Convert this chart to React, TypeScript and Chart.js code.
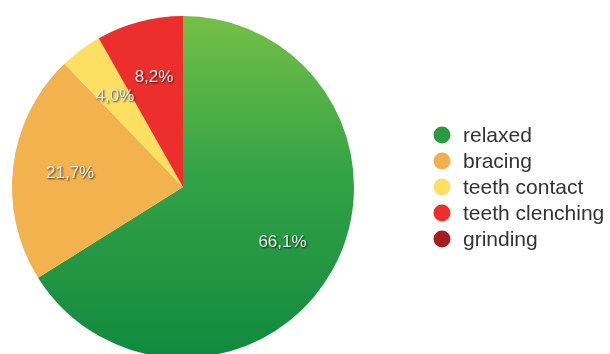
import React, { useEffect, useRef } from "react";
import { Chart, registerables } from "chart.js";

Chart.register(...registerables);

const categories = ["relaxed", "bracing", "teeth contact", "teeth clenching", "grinding"];
const shares = [66.1, 21.7, 4.0, 8.2, 0];
const valueLabels = ["66,1%", "21,7%", "4,0%", "8,2%", ""];
const flatColors = ["#2fa046", "#f2b24e", "#fddf62", "#ec2f2c", "#a51e1f"];
const legendColors = ["#2a9b3f", "#f1b04c", "#fddf62", "#ec2f2c", "#a51e1f"];

const sliceLabelPlugin = {
  id: "sliceLabels",
  afterDatasetsDraw(chart: any) {
    const ctx = chart.ctx;
    const meta = chart.getDatasetMeta(0);
    ctx.save();
    ctx.font = "17px 'Liberation Sans', Arial, sans-serif";
    ctx.textAlign = "center";
    ctx.textBaseline = "middle";
    meta.data.forEach((arc: any, i: number) => {
      const txt = valueLabels[i];
      if (!txt) return;
      const p = arc.getProps(["x", "y", "startAngle", "endAngle", "outerRadius"], true);
      const mid = (p.startAngle + p.endAngle) / 2;
      const r = p.outerRadius * 0.665;
      const x = p.x + Math.cos(mid) * r;
      const y = p.y + Math.sin(mid) * r;
      ctx.shadowColor = "rgba(0,0,0,0.75)";
      ctx.shadowBlur = 2;
      ctx.shadowOffsetX = 1;
      ctx.shadowOffsetY = 1;
      ctx.fillStyle = "#ececec";
      ctx.fillText(txt, x, y);
    });
    ctx.restore();
  },
};

const legendPlugin = {
  id: "customLegend",
  afterDraw(chart: any) {
    const ctx = chart.ctx;
    ctx.save();
    ctx.font = "21px 'Liberation Sans', Arial, sans-serif";
    ctx.textBaseline = "middle";
    ctx.textAlign = "left";
    const x0 = 442;
    const y0 = 135;
    const step = 26;
    chart.data.labels.forEach((lab: string, i: number) => {
      const y = y0 + i * step;
      ctx.beginPath();
      ctx.arc(x0, y, 8.5, 0, Math.PI * 2);
      ctx.fillStyle = legendColors[i];
      ctx.fill();
      ctx.fillStyle = "#333333";
      ctx.fillText(lab, 463, y + 1);
    });
    ctx.restore();
  },
};

export default function App() {
  const ref = useRef<HTMLCanvasElement | null>(null);
  useEffect(() => {
    if (!ref.current) return;
    const chart = new Chart(ref.current, {
      type: "pie",
      data: {
        labels: categories,
        datasets: [
          {
            data: shares,
            borderWidth: 0,
            backgroundColor: (c: any) => {
              const i = c.dataIndex;
              if (i === 0) {
                const area = c.chart.chartArea;
                if (!area) return flatColors[0];
                const g = c.chart.ctx.createLinearGradient(0, area.top, 0, area.bottom);
                g.addColorStop(0, "#74c046");
                g.addColorStop(0.45, "#35a347");
                g.addColorStop(1, "#118a3e");
                return g;
              }
              return flatColors[i];
            },
          },
        ],
      },
      options: {
        responsive: false,
        animation: false,
        layout: { padding: { left: 12, right: 256, top: 16, bottom: 16 } },
        plugins: {
          legend: { display: false },
          tooltip: { enabled: false },
        },
      },
      plugins: [sliceLabelPlugin, legendPlugin],
    });
    return () => chart.destroy();
  }, []);
  return (
    <div
      style={{
        position: "fixed",
        left: 0,
        top: 0,
        width: 610,
        height: 354,
        overflow: "hidden",
        background: "#ffffff",
      }}
    >
      <canvas ref={ref} width={610} height={374} style={{ display: "block", width: 610, height: 374 }} />
    </div>
  );
}
